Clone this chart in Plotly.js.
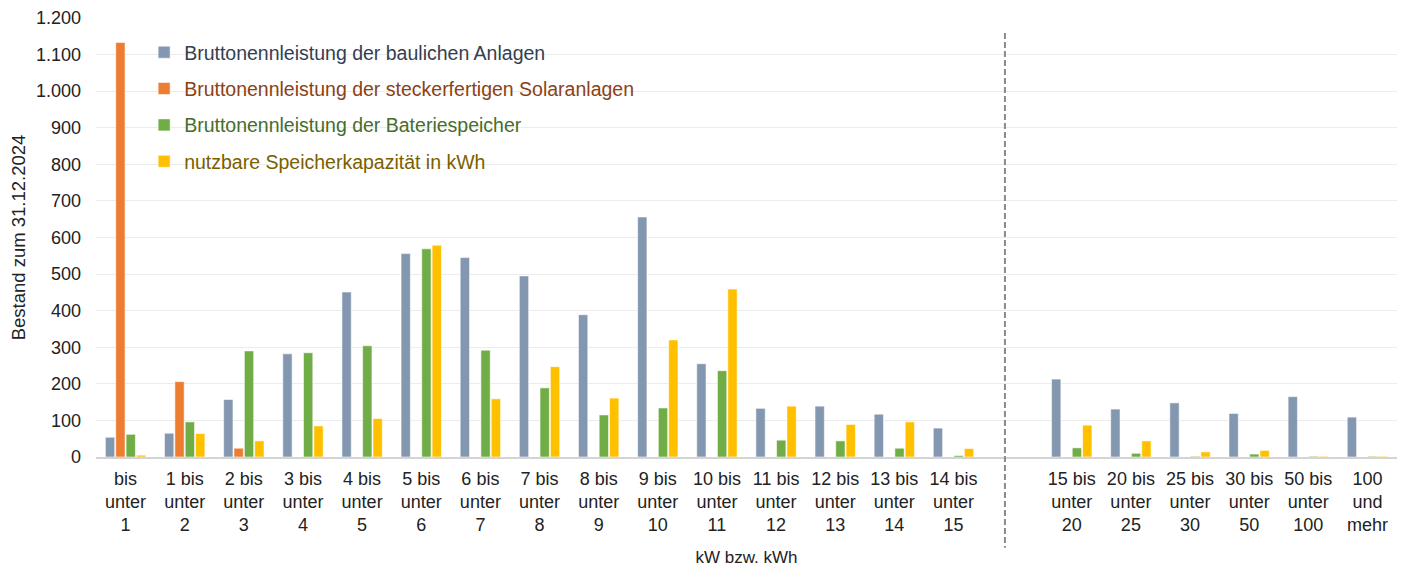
<!DOCTYPE html>
<html>
<head>
<meta charset="utf-8">
<script src="https://cdn.plot.ly/plotly-3.0.1.min.js"></script>
<style>html,body{margin:0;padding:0;background:#fff;}#chart{width:1403px;height:567px;}</style>
</head>
<body>
<div id="chart"></div>
<script>
const categories = [
  "bis<br>unter<br>1", "1 bis<br>unter<br>2", "2 bis<br>unter<br>3", "3 bis<br>unter<br>4",
  "4 bis<br>unter<br>5", "5 bis<br>unter<br>6", "6 bis<br>unter<br>7", "7 bis<br>unter<br>8",
  "8 bis<br>unter<br>9", "9 bis<br>unter<br>10", "10 bis<br>unter<br>11", "11 bis<br>unter<br>12",
  "12 bis<br>unter<br>13", "13 bis<br>unter<br>14", "14 bis<br>unter<br>15", " ",
  "15 bis<br>unter<br>20", "20 bis<br>unter<br>25", "25 bis<br>unter<br>30", "30 bis<br>unter<br>50",
  "50 bis<br>unter<br>100", "100<br>und<br>mehr"
];
const baulich = [54, 65, 157, 282, 451, 556, 545, 495, 389, 656, 255, 133, 139, 117, 79, null, 213, 131, 148, 119, 165, 109];
const stecker = [1133, 206, 24, null, null, null, null, null, null, null, null, null, null, null, null, null, null, null, null, null, null, null];
const batterie = [62, 96, 290, 285, 304, 569, 292, 189, 115, 134, 236, 46, 44, 24, 4, null, 25, 10, 2, 8, 2, 2];
const kapazitaet = [5, 64, 44, 85, 105, 579, 159, 247, 161, 320, 459, 139, 89, 96, 23, null, 87, 44, 14, 18, 2, 2];

const seriesNames = [
  "Bruttonennleistung der baulichen Anlagen",
  "Bruttonennleistung der steckerfertigen Solaranlagen",
  "Bruttonennleistung der Bateriespeicher",
  "nutzbare Speicherkapazität in kWh"
];
const seriesColors = ["#8497B0", "#ED7D31", "#70AD47", "#FFC000"];
const legendTextColors = ["#333F50", "#8A4216", "#466D2C", "#7A5F00"];
const seriesValues = [baulich, stecker, batterie, kapazitaet];

const traces = seriesValues.map((vals, i) => ({
  type: "bar",
  x: categories,
  y: vals,
  name: '<span style="color:' + legendTextColors[i] + '">' + seriesNames[i] + '</span>',
  legendgroup: "g" + i,
  marker: { color: seriesColors[i], line: { color: "rgba(255,255,255,0.55)", width: 1 } },
  hoverinfo: "y"
}));

const font = "Liberation Sans, Arial, sans-serif";

const layout = {
  width: 1403,
  height: 567,
  margin: { l: 96, r: 6, t: 18, b: 110 },
  paper_bgcolor: "#fff",
  plot_bgcolor: "#fff",
  separators: ",.",
  font: { family: font, size: 18, color: "#222" },
  barmode: "group",
  bargap: 0.3,
  bargroupgap: 0.1,
  showlegend: true,
  legend: {
    x: 0.037, y: 0.9658, xanchor: "left", yanchor: "top",
    bgcolor: "rgba(0,0,0,0)",
    font: { family: font, size: 19.5 },
    tracegroupgap: 8,
    itemwidth: 30
  },
  xaxis: {
    type: "category",
    tickfont: { family: font, size: 18, color: "#222" },
    showgrid: false,
    showline: true,
    linecolor: "#d4d4d4",
    linewidth: 2,
    ticks: "",
    ticklabelstandoff: 4,
    title: { text: "kW bzw. kWh", font: { family: font, size: 17, color: "#222" }, standoff: 17 },
    automargin: false
  },
  yaxis: {
    range: [0, 1200],
    dtick: 100,
    tickformat: ",d",
    tickfont: { family: font, size: 18, color: "#222" },
    showgrid: true,
    gridcolor: "#ececec",
    gridwidth: 1,
    zeroline: false,
    showline: false,
    ticks: "",
    ticklabelstandoff: 14,
    title: { text: "Bestand zum 31.12.2024", font: { family: font, size: 18.5, color: "#222" }, standoff: 5 },
    automargin: false
  },
  shapes: [{
    type: "line",
    xref: "x", yref: "paper",
    x0: 14.87, x1: 14.87, y0: 0.966, y1: -0.207,
    line: { color: "#8a8a8a", width: 2, dash: "6px,3px" }
  }]
};

Plotly.newPlot("chart", traces, layout, { displayModeBar: false, staticPlot: true });
</script>
</body>
</html>
